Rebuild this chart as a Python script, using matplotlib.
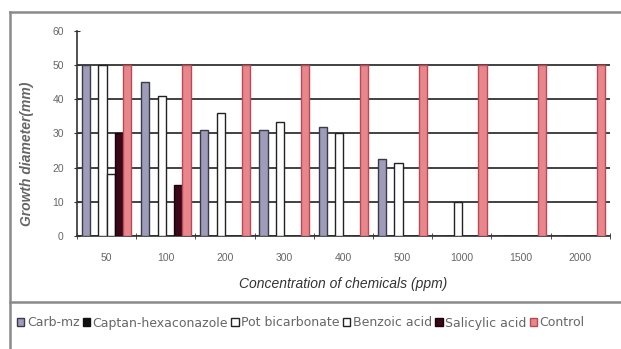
import matplotlib.pyplot as plt
import numpy as np
from matplotlib.lines import Line2D

plt.rcParams['font.family'] = ['Liberation Sans', 'DejaVu Sans']

# concentration (ppm) and growth diameter (mm) for each treatment
conc = ['50', '100', '200', '300', '400', '500', '1000', '1500', '2000']
carb_mz = [50, 45, 31, 31, 32, 22.5, 0, 0, 0]
captan_hex = [0, 0, 0, 0, 0, 0, 0, 0, 0]
pot_bicarb = [50, 41, 36, 33.5, 30, 21.5, 10, 0, 0]
benzoic = [18, 0, 0, 0, 0, 0, 0, 0, 0]
salicylic = [30, 15, 0, 0, 0, 0, 0, 0, 0]
control = [50, 50, 50, 50, 50, 50, 50, 50, 50]

series = [
    ('Carb-mz', carb_mz, '#9e9cb8', '#3a3a4a'),
    ('Captan-hexaconazole', captan_hex, '#111111', '#111111'),
    ('Pot bicarbonate', pot_bicarb, '#ffffff', '#222222'),
    ('Benzoic acid', benzoic, '#ffffff', '#222222'),
    ('Salicylic acid', salicylic, '#3a0818', '#1a0008'),
    ('Control', control, '#e8868c', '#b84a55'),
]

fig = plt.figure(figsize=(6.21, 3.49), dpi=100)
ax = fig.add_axes([0.124, 0.324, 0.858, 0.587])

x = np.arange(len(conc))
w = 0.14
for i, (name, vals, fc, ec) in enumerate(series):
    ax.bar(x + (i - 2.5) * w, vals, w, color=fc, edgecolor=ec,
           linewidth=1.0, label=name, zorder=3)

ax.set_xlim(-0.5, len(conc) - 0.5)
ax.set_ylim(0, 60)
ax.set_yticks(range(0, 61, 10))
ax.set_xticks(x)
ax.set_xticklabels(conc)
ax.set_xticks(np.arange(-0.5, len(conc)), minor=True)
ax.tick_params(axis='x', which='major', length=0, pad=12, labelsize=7.5, labelcolor='#666666')
ax.tick_params(axis='x', which='minor', length=4, direction='inout', color='#333333')
ax.tick_params(axis='y', length=5, direction='inout', labelsize=7.5, labelcolor='#666666',
               color='#333333', pad=7)

ax.yaxis.grid(True, color='#333333', linewidth=1.3, zorder=0)
ax.set_axisbelow(True)
ax.get_ygridlines()[-1].set_visible(False)

for s in ['top', 'right']:
    ax.spines[s].set_visible(False)
ax.spines['left'].set_color('#333333')
ax.spines['bottom'].set_color('#333333')
ax.spines['left'].set_linewidth(1.2)
ax.spines['bottom'].set_linewidth(1.2)

ax.set_xlabel('Concentration of chemicals (ppm)', fontsize=10, style='italic',
              color='#333333')
ax.xaxis.set_label_coords(0.5, -0.2)
ax.set_ylabel('Growth diameter(mm)', fontsize=10, style='italic',
              fontweight='bold', color='#666666')
ax.yaxis.set_label_coords(-0.08, 0.4)

# chart frame and legend box
W, H = 621, 349
fig.add_artist(Line2D([10 / W, 10 / W], [0, 1 - 12 / H], transform=fig.transFigure,
                      color='#8a8a8a', linewidth=1.8))
fig.add_artist(Line2D([10 / W, 1], [1 - 12 / H, 1 - 12 / H], transform=fig.transFigure,
                      color='#8a8a8a', linewidth=1.8))
fig.add_artist(Line2D([10 / W, 1], [1 - 302 / H, 1 - 302 / H], transform=fig.transFigure,
                      color='#8a8a8a', linewidth=1.8))

fig.legend(loc='center left', bbox_to_anchor=(0.027, 1 - 323 / H), ncol=6,
           frameon=False, handlelength=0.6, handleheight=0.6,
           handletextpad=0.2, columnspacing=0.25, labelcolor='#666666',
           borderaxespad=0, borderpad=0,
           prop={'family': 'DejaVu Sans', 'size': 9})

fig.savefig('out.png', dpi=100)
